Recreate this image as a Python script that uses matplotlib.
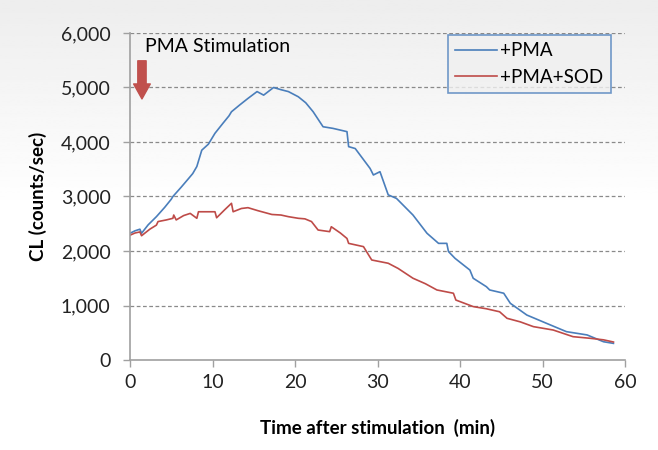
import numpy as np
import matplotlib
matplotlib.use("Agg")
import matplotlib.pyplot as plt

plt.rcParams['font.family'] = ['Lato', 'DejaVu Sans']

# +PMA series (time in min, CL counts/sec)
t_pma = [0, 0.6, 1.2, 1.4, 2.2, 3.2, 4.2, 5.0, 5.2, 6.2,
         7.1, 7.6, 8.1, 8.7, 9.5, 10.3, 11.3, 12.0, 12.3, 13.3,
         14.3, 15.4, 16.2, 17.4, 18.3, 19.2, 20.4, 21.3, 22.2, 23.4,
         24.6, 26.3, 26.5, 27.3, 29.1, 29.5, 30.3, 31.3, 32.3, 34.3,
         36.0, 37.4, 38.4, 38.6, 39.4, 41.2, 41.6, 43.2, 43.6, 45.3,
         46.1, 48.1, 50.5, 52.9, 55.4, 57.4, 58.6]
cl_pma = [2325, 2370, 2400, 2325, 2480, 2630, 2800, 2950, 3000, 3170,
          3330, 3420, 3550, 3850, 3960, 4160, 4350, 4480, 4555, 4680,
          4800, 4925, 4860, 5000, 4960, 4925, 4830, 4720, 4555, 4280,
          4250, 4190, 3915, 3880, 3515, 3395, 3455, 3030, 2965, 2660,
          2325, 2140, 2140, 1990, 1865, 1650, 1500, 1345, 1285, 1225,
          1040, 825, 672, 520, 460, 335, 305]

# +PMA+SOD series
t_sod = [0, 0.6, 1.2, 1.4, 2.4, 3.2, 3.4, 4.4, 5.2, 5.3,
         5.6, 6.5, 7.3, 8.1, 8.3, 9.3, 10.3, 10.5, 11.5, 12.3,
         12.5, 13.5, 14.3, 15.5, 17.2, 18.3, 19.2, 20.4, 21.2, 22.0,
         22.8, 24.2, 24.4, 25.5, 26.3, 26.5, 28.3, 29.3, 31.3, 32.5,
         34.3, 35.8, 37.2, 39.2, 39.5, 41.6, 43.2, 44.8, 45.7, 47.3,
         48.9, 51.3, 53.7, 55.8, 57.4, 58.6]
cl_sod = [2290, 2330, 2350, 2280, 2400, 2475, 2540, 2570, 2600, 2660,
          2570, 2650, 2690, 2600, 2720, 2720, 2720, 2610, 2760, 2875,
          2720, 2780, 2795, 2740, 2670, 2660, 2630, 2600, 2590, 2540,
          2385, 2355, 2445, 2330, 2230, 2140, 2080, 1835, 1775, 1680,
          1500, 1400, 1285, 1225, 1100, 980, 940, 885, 765, 700,
          612, 550, 428, 398, 370, 330]

x_ticks = [0, 10, 20, 30, 40, 50, 60]
y_ticks = [0, 1000, 2000, 3000, 4000, 5000, 6000]

fig = plt.figure(figsize=(6.58, 4.5), dpi=100)

# soft grey-to-white background like the original
bg = fig.add_axes([0, 0, 1, 1], zorder=-10)
grad = np.clip(np.linspace(0.93, 1.08, 256), 0, 1)[:, None]
bg.imshow(grad, cmap='gray', vmin=0, vmax=1, aspect='auto', extent=[0, 1, 0, 1])
bg.axis('off')

ax = fig.add_axes([130 / 658, 90 / 450, 495 / 658, 327 / 450])
ax.patch.set_alpha(0)

ax.plot(t_pma, cl_pma, color='#4a7ebb', lw=1.2, label='+PMA')
ax.plot(t_sod, cl_sod, color='#be4b48', lw=1.2, label='+PMA+SOD')

ax.set_xlim(0, 60)
ax.set_ylim(0, 6000)
ax.set_xticks(x_ticks)
ax.set_yticks(y_ticks)
ax.set_yticklabels([f'{v:,}' for v in y_ticks])
ax.tick_params(labelsize=14, colors='#a0a0a0', labelcolor='#222222', length=5, width=1)
ax.tick_params(axis='y', pad=9)
ax.tick_params(axis='x', pad=5)
for g in y_ticks[1:]:
    ax.axhline(g, color='#8a8a8a', lw=0.9, ls=(0, (3, 2)), zorder=0)
for s in ['top', 'right']:
    ax.spines[s].set_visible(False)
for s in ['left', 'bottom']:
    ax.spines[s].set_color('#a0a0a0')
    ax.spines[s].set_linewidth(1.2)

ax.set_xlabel('Time after stimulation  (min)', fontsize=13.5, fontweight='bold', labelpad=20)
ax.set_ylabel('CL (counts/sec)', fontsize=13.5, fontweight='bold', labelpad=10)

ax.text(1.8, 5760, 'PMA Stimulation', fontsize=14, va='center', ha='left')
ax.annotate('', xy=(1.45, 4790), xytext=(1.45, 5490),
            arrowprops=dict(arrowstyle='simple,head_width=1.0,head_length=0.9,tail_width=0.5',
                            mutation_scale=12, color='#c0504d', shrinkA=0, shrinkB=0))

leg = ax.legend(loc='upper right', bbox_to_anchor=(481 / 495, 325 / 327), fontsize=13.5,
                frameon=True, fancybox=False, handlelength=2.2, borderpad=0.4,
                labelspacing=0.5, borderaxespad=0, handletextpad=0.2)
leg.get_frame().set_edgecolor('#4f81bd')
leg.get_frame().set_facecolor('#f0f0f0')
leg.get_frame().set_linewidth(1.2)

fig.savefig('out.png', dpi=100)
